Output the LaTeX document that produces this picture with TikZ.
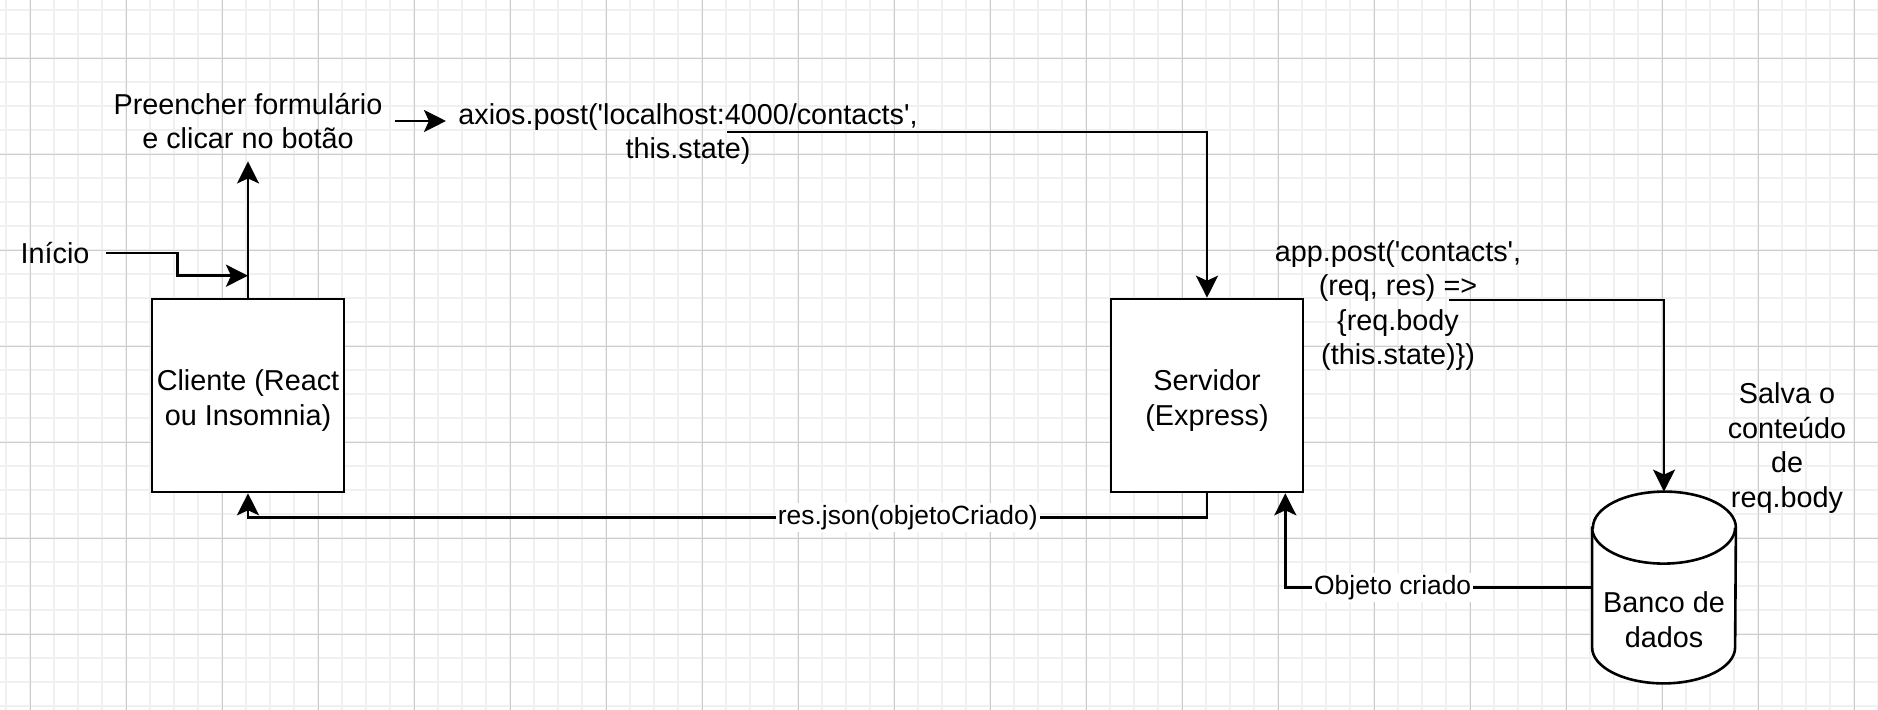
\documentclass[tikz,border=0pt]{standalone}
\usepackage{fontspec}
\setmainfont{Liberation Sans}
\usetikzlibrary{arrows.meta}

\begin{document}
\begin{tikzpicture}[x=0.5pt, y=-0.5pt,
    every node/.style={font=\fontsize{14.4}{17.3}\selectfont},
    txt/.style={align=center, inner sep=6pt},
    box/.style={draw, fill=white, line width=1.3pt, minimum width=96pt, minimum height=96.5pt,
      label={[align=center, yshift=-2.5pt]center:#1}},
    flow/.style={line width=1.3pt, -{Stealth[length=11pt, width=11pt, inset=2.5pt]}},
    msg/.style={fill=white, inner sep=1pt, font=\fontsize{13.2}{15.8}\selectfont},
    minorgrid/.style={gray!12, line width=1pt},
    majorgrid/.style={gray!40, line width=0.45pt}]
  \useasboundingbox (0,0) rectangle (1878,710);

  % Background grid
  \fill[white] (0,0) rectangle (1878,710);
  \foreach \k in {0,...,78} \draw[minorgrid] (6.3+24*\k,0) -- (6.3+24*\k,710);
  \foreach \k in {0,...,29} \draw[minorgrid] (0,10.3+24*\k) -- (1878,10.3+24*\k);
  \foreach \k in {0,...,19} \draw[majorgrid] (30.3+96*\k,0) -- (30.3+96*\k,710);
  \foreach \k in {0,...,6} \draw[majorgrid] (0,58.3+96*\k) -- (1878,58.3+96*\k);

  % Client and server
  \node[box={Cliente (React\\ou Insomnia)}] (cliente) at (248,395.5) {};
  \node[box={Servidor\\(Express)}] (servidor) at (1207,395.5) {};

  % Database cylinder
  \node[minimum width=71.5pt, minimum height=95.5pt, inner sep=0pt] (banco) at (1664,587.5) {};
  \draw[line width=1.3pt, fill=white] ([yshift=-18pt]banco.north west) -- ([yshift=18pt]banco.south west)
    arc[start angle=180, end angle=360, x radius=35.75pt, y radius=18pt] -- ([yshift=-18pt]banco.north east)
    arc[start angle=0, end angle=180, x radius=35.75pt, y radius=18pt] -- cycle;
  \draw[line width=1.3pt] ([yshift=-18pt]banco.north west) arc[start angle=180, end angle=360, x radius=35.75pt, y radius=18pt];
  \node[align=center] (bancotxt) at ([yshift=-16pt]banco.center) {Banco de\\dados};

  % Free labels
  \node[txt, inner xsep=8.2pt] (inicio) at (55,253) {Início};
  \node[txt] (preencher) at (248,121) {Preencher formulário\\e clicar no botão};
  \node[txt] (axios) at (688,134) {axios.post(\textquotesingle localhost:4000/contacts\textquotesingle,\\this.state)};
  \node[txt] (app) at (1398,305.5) {app.post(\textquotesingle contacts\textquotesingle,\\(req, res) =>\\\{req.body\\(this.state)\})};
  \node[txt] (salva) at (1787,448) {Salva o\\conteúdo\\de\\req.body};

  % Connectors
  \coordinate (join) at ([yshift=11pt]cliente.north);
  \draw[flow] (inicio.east) -- ++(71,0) |- (join);
  \draw[flow] (cliente.north) -- (cliente.north |- preencher.south);
  \draw[flow] (preencher.east) -- (preencher.east -| axios.west);
  \draw[flow] ([xshift=19.5pt, yshift=1pt]axios.center) -| (servidor.north);
  \draw[flow] ([xshift=25.5pt, yshift=2.75pt]app.center) -| (banco.north);
  \draw[flow] (servidor.south) -- ++(0,24) -| node[msg, pos=0.156] {res.json(objetoCriado)} (cliente.south);
  \draw[flow] (banco.west) -| node[msg, pos=0.325] {Objeto criado} ([xshift=-9.5pt]servidor.south east);
\end{tikzpicture}
\end{document}
